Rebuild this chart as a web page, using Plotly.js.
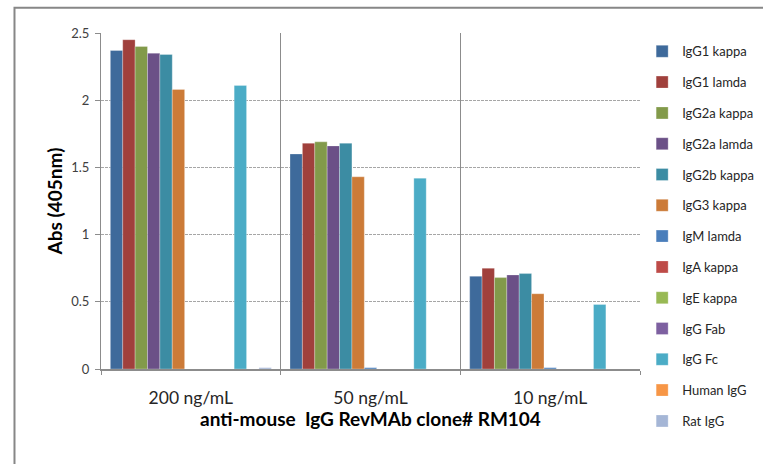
<!DOCTYPE html>
<html>
<head>
<meta charset="utf-8">
<script src="https://cdn.plot.ly/plotly-3.0.1.min.js"></script>
<style>
html,body{margin:0;padding:0;background:#fff;overflow:hidden;}
#chart{width:763px;height:464px;}
</style>
</head>
<body>
<div id="chart"></div>
<script>
var categories = ["200 ng/mL", "50 ng/mL", "10 ng/mL"];
var seriesNames = ["IgG1 kappa", "IgG1 lamda", "IgG2a kappa", "IgG2a lamda", "IgG2b kappa", "IgG3 kappa",
  "IgM lamda", "IgA kappa", "IgE kappa", "IgG Fab", "IgG Fc", "Human IgG", "Rat IgG"];
var values200 = [2.37, 2.45, 2.40, 2.35, 2.34, 2.08, 0, 0, 0, 0, 2.11, 0, 0.01];
var values50  = [1.60, 1.68, 1.69, 1.66, 1.68, 1.43, 0.01, 0, 0, 0, 1.42, 0, 0];
var values10  = [0.69, 0.75, 0.68, 0.70, 0.71, 0.56, 0.01, 0, 0, 0, 0.48, 0, 0];
var colors = ["#3E6A9B", "#A0403C", "#829A4A", "#6B5087", "#3C8CA3", "#CC7B38",
  "#4A7EBB", "#BE4B48", "#98B954", "#7D60A0", "#4BACC6", "#F79646", "#A5B6D6"];

var FONT = "Lato, 'Liberation Sans', sans-serif";
var traces = seriesNames.map(function (name, i) {
  return {
    type: "bar",
    name: name,
    x: categories,
    y: [values200[i], values50[i], values10[i]],
    marker: {color: colors[i], line: {color: "rgba(255,255,255,0.35)", width: 0.8}},
    legendgroup: "g" + i
  };
});

var layout = {
  width: 763, height: 464,
  margin: {l: 101, r: 123, t: 33, b: 95, autoexpand: false},
  paper_bgcolor: "#fff", plot_bgcolor: "#fff",
  barmode: "group", bargap: 0.104, bargroupgap: 0,
  font: {family: FONT, color: "#404040"},
  xaxis: {
    type: "category",
    tickson: "boundaries",
    showgrid: true, gridcolor: "#8C8C8C", gridwidth: 1,
    showline: true, linecolor: "#8C8C8C", linewidth: 1.5,
    ticks: "outside", ticklen: 4, tickcolor: "#8C8C8C",
    ticklabelstandoff: 12,
    tickfont: {size: 17.5, color: "#262626", family: FONT},
    title: {text: "anti-mouse  IgG RevMAb clone# RM104", font: {size: 19, color: "#000", family: FONT, weight: "bold"}, standoff: 6},
    zeroline: false, fixedrange: true, automargin: false
  },
  yaxis: {
    range: [0, 2.5], dtick: 0.5, tick0: 0,
    showgrid: true, gridcolor: "#A6A6A6", gridwidth: 1, griddash: "3px,1px",
    showline: true, linecolor: "#8C8C8C", linewidth: 1,
    ticks: "outside", ticklen: 5, tickcolor: "#8C8C8C",
    ticklabelstandoff: 3,
    tickfont: {size: 13, color: "#404040", family: FONT},
    title: {text: "Abs (405nm)", font: {size: 19, color: "#000", family: FONT, weight: "bold"}, standoff: 3},
    zeroline: false, fixedrange: true, automargin: false
  },
  legend: {
    x: 1.004, xanchor: "left", y: 0.99, yanchor: "top",
    font: {size: 13, color: "#262626", family: FONT},
    tracegroupgap: 10.9, itemwidth: 30, maxheight: 460,
    bgcolor: "rgba(0,0,0,0)"
  },
  shapes: [{
    type: "rect", xref: "paper", yref: "paper",
    x0: -0.1605, x1: 1.3, y0: -0.4, y1: 1.075,
    line: {color: "#878787", width: 2}, fillcolor: "rgba(0,0,0,0)", layer: "below"
  }],
  showlegend: true
};

Plotly.newPlot("chart", traces, layout, {displayModeBar: false, staticPlot: true});
</script>
</body>
</html>
